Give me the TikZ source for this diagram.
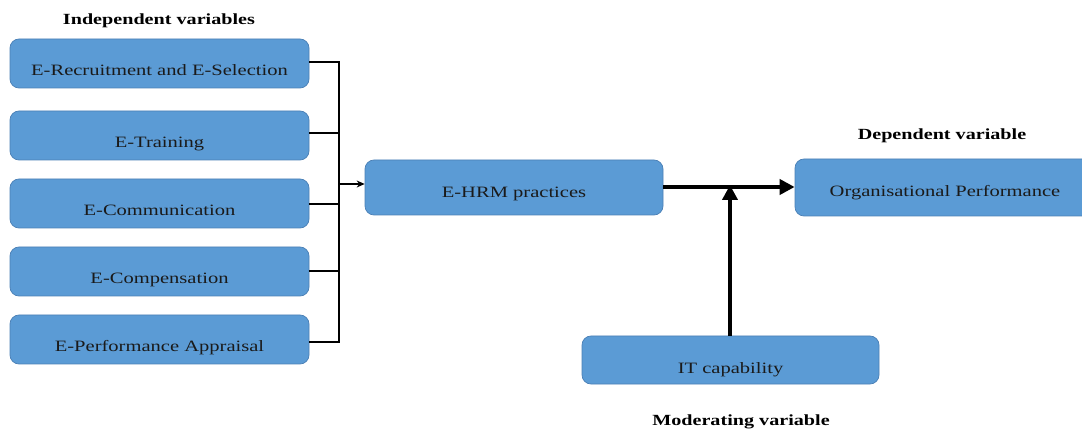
\documentclass[tikz,border=0pt]{standalone}
\usepackage{fontspec}
\setmainfont{Liberation Serif}
\usetikzlibrary{arrows.meta}
\definecolor{boxblue}{HTML}{5B9BD5}
\definecolor{boxline}{HTML}{4A7FB5}
\definecolor{txt}{HTML}{1A1A1A}
\newcommand{\wtxt}[1]{\scalebox{1.3}[1]{#1}}
\tikzset{
  vbox/.style={draw=boxline, fill=boxblue, line width=0.7pt, rounded corners=9pt,
    inner sep=0pt, text=txt, font=\fontsize{15.8}{18}\selectfont,
    text height=25pt, text depth=0pt},
  head/.style={font=\bfseries\fontsize{15.5}{18}\selectfont, text=black, inner sep=0pt},
  thin/.style={line width=1.8pt, black},
  thick/.style={line width=4pt, black, -{Triangle[length=15pt,width=15pt]}}
}
\begin{document}
\begin{tikzpicture}[x=1pt,y=-1pt]
\useasboundingbox (0,0) rectangle (1082,430);
% independent boxes
\node[vbox, minimum width=299pt, minimum height=49pt] (b1) at (159.5,63.5) {\wtxt{E-Recruitment and E-Selection}};
\node[vbox, minimum width=299pt, minimum height=49pt] (b2) at (159.5,135.5) {\wtxt{E-Training}};
\node[vbox, minimum width=299pt, minimum height=49pt] (b3) at (159.5,203.5) {\wtxt{E-Communication}};
\node[vbox, minimum width=299pt, minimum height=49pt] (b4) at (159.5,271.5) {\wtxt{E-Compensation}};
\node[vbox, minimum width=299pt, minimum height=49pt] (b5) at (159.5,339.5) {\wtxt{E-Performance Appraisal}};
% central boxes
\node[vbox, minimum width=298pt, minimum height=55pt, text height=20pt] (hrm) at (514,187.5) {\wtxt{E-HRM practices}};
\node[vbox, minimum width=300pt, minimum height=57pt, text height=19pt] (org) at (945,187.5) {\wtxt{Organisational Performance}};
\node[vbox, minimum width=297pt, minimum height=48pt, text height=27pt] (it) at (730.5,360) {\wtxt{IT capability}};
% headings
\node[head] (h1) at (159,21) {\wtxt{Independent variables}};
\node[head] (h2) at (942,136) {\wtxt{Dependent variable}};
\node[head] (h3) at (741,422) {\wtxt{Moderating variable}};
% bracket
\coordinate (bx1) at (339,62);
\coordinate (bx5) at (339,342);
\draw[thin] (b1.east |- bx1) -- (bx1) -- (bx5) -- (b5.east |- bx5);
\draw[thin] (b2.east |- 0,133) -- (339,133);
\draw[thin] (b3.east |- 0,204) -- (339,204);
\draw[thin] (b4.east |- 0,271) -- (339,271);
\coordinate (bm) at (339,184);
\draw[line width=1.2pt, -{Stealth[length=8pt,width=7pt]}] (bm) -- (hrm.west |- bm);
% main arrows
\coordinate (jn) at (730,187);
\draw[thick] (hrm.east |- jn) -- (org.west |- jn);
\draw[thick] (it.north -| jn) -- ([yshift=2pt]jn);
\end{tikzpicture}
\end{document}
